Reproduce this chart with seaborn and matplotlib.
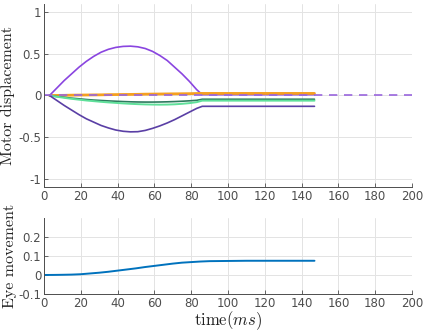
import numpy as np
import pandas as pd
import matplotlib
matplotlib.use("Agg")
import matplotlib.pyplot as plt
import seaborn as sns

# motor displacement traces (time in ms)
t_motor = [3, 7, 11, 15, 19, 23, 27, 31, 35, 39, 43, 47, 51, 55, 59, 63, 67, 71, 75, 79, 83, 86, 147]
motor_up = [0, 0.09, 0.18, 0.26, 0.34, 0.41, 0.47, 0.52, 0.555, 0.578, 0.59, 0.593, 0.585,
            0.565, 0.53, 0.48, 0.42, 0.34, 0.26, 0.17, 0.07, 0.01, 0.01]
motor_down = [0, -0.06, -0.12, -0.175, -0.23, -0.28, -0.32, -0.36, -0.39, -0.415, -0.43, -0.437,
              -0.435, -0.42, -0.395, -0.365, -0.33, -0.29, -0.245, -0.2, -0.155, -0.13, -0.13]
motor_orange = [0, 0.001, 0.002, 0.004, 0.005, 0.006, 0.007, 0.008, 0.01, 0.011, 0.012, 0.013,
                0.014, 0.016, 0.017, 0.018, 0.019, 0.02, 0.021, 0.022, 0.024, 0.025, 0.025]
motor_dkgreen = [0, -0.012, -0.022, -0.032, -0.04, -0.048, -0.055, -0.06, -0.065, -0.069, -0.073,
                 -0.076, -0.078, -0.079, -0.079, -0.078, -0.076, -0.073, -0.069, -0.064, -0.058,
                 -0.045, -0.045]
motor_ltgreen = [0, -0.015, -0.028, -0.04, -0.05, -0.06, -0.068, -0.076, -0.083, -0.089, -0.095,
                 -0.1, -0.104, -0.107, -0.109, -0.11, -0.109, -0.106, -0.1, -0.092, -0.08,
                 -0.062, -0.062]
ref_t = [0, 200]
ref_val = [0, 0]

# eye movement
t_eye = [0, 5, 10, 15, 20, 25, 30, 35, 40, 45, 50, 55, 60, 65, 70, 75, 80, 85, 90, 100, 110, 120, 147]
eye = [0, 0.0003, 0.001, 0.002, 0.004, 0.008, 0.012, 0.017, 0.023, 0.029, 0.035, 0.042, 0.048,
       0.054, 0.060, 0.065, 0.068, 0.071, 0.073, 0.074, 0.075, 0.075, 0.075]

sns.set_theme(style="ticks")
plt.rcParams["font.family"] = ["DejaVu Sans"]
plt.rcParams["mathtext.fontset"] = "cm"

fig = plt.figure(figsize=(4.23, 3.31), dpi=100)
ax1 = fig.add_axes([0.104, 0.435, 0.870, 0.553])
ax2 = fig.add_axes([0.104, 0.112, 0.870, 0.229])

series = [
    (motor_up, "#8a45e0", 1.2),
    (motor_orange, "#f5a020", 2.0),
    (motor_dkgreen, "#2e7a5e", 1.2),
    (motor_ltgreen, "#5fe09a", 1.4),
    (motor_down, "#5a3fa5", 1.2),
]
for vals, col, lw in series:
    sns.lineplot(x=t_motor, y=vals, ax=ax1, color=col, lw=lw)
sns.lineplot(x=ref_t, y=ref_val, ax=ax1, color="#9966dd", lw=1.2, linestyle=(0, (5, 4)))

sns.lineplot(x=t_eye, y=eye, ax=ax2, color="#0072BD", lw=1.4)

for ax in (ax1, ax2):
    ax.set_xlim(0, 200)
    ax.set_xticks(range(0, 201, 20))
    ax.grid(True, color="#e3e3e3", lw=0.7)
    ax.tick_params(direction="in", labelsize=8.5, colors="#4d4d4d", length=3, width=0.6, pad=2)
    for s in ("top", "right"):
        ax.spines[s].set_visible(False)
    for s in ("left", "bottom"):
        ax.spines[s].set_color("#4d4d4d")
        ax.spines[s].set_linewidth(0.7)

ax1.set_ylim(-1.1, 1.1)
ax1.set_yticks([-1, -0.5, 0, 0.5, 1])
ax1.set_yticklabels(["-1", "-0.5", "0", "0.5", "1"])
ax1.set_ylabel("Motor displacement", fontname="cmr10", fontsize=11.5, color="#222222")
ax1.yaxis.set_label_coords(-0.078, 0.5)

ax2.set_ylim(-0.1, 0.3)
ax2.set_yticks([-0.1, 0, 0.1, 0.2])
ax2.set_yticklabels(["-0.1", "0", "0.1", "0.2"])
ax2.set_ylabel("Eye movement", fontname="cmr10", fontsize=11.5, color="#222222")
ax2.yaxis.set_label_coords(-0.072, 0.5)
ax2.set_xlabel("time$(ms)$", fontname="cmr10", fontsize=12, color="#222222")
ax2.xaxis.set_label_coords(0.5, -0.2)

fig.savefig("out.png", dpi=100)
